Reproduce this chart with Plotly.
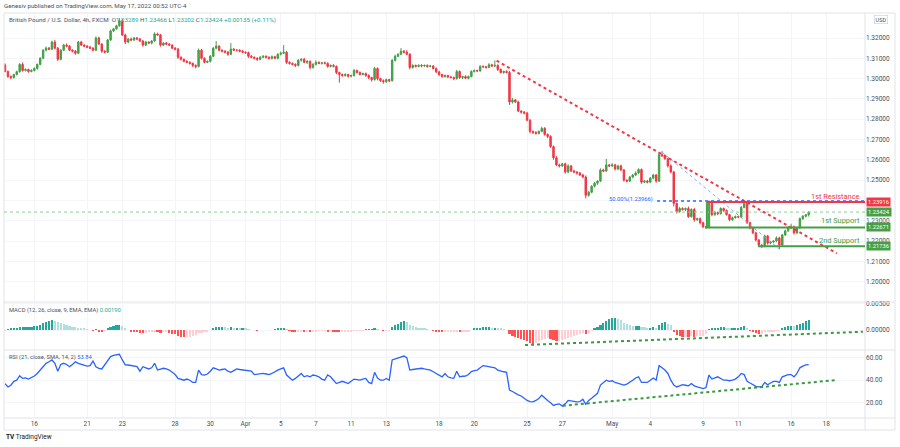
import numpy as np
import pandas as pd
import plotly.graph_objects as go

# ---------------- data ----------------
first_open = 1.3067
closes = [
 1.3035,1.3010,1.3005,1.3020,1.3034,1.3070,1.3040,1.3045,1.3035,1.3040,
 1.3050,1.3070,1.3100,1.3140,1.3150,1.3145,1.3180,1.3150,1.3095,1.3140,
 1.3165,1.3160,1.3140,1.3135,1.3125,1.3180,1.3165,1.3160,1.3155,1.3150,
 1.3140,1.3200,1.3170,1.3135,1.3130,1.3190,1.3235,1.3245,1.3260,1.3285,
 1.3215,1.3180,1.3195,1.3190,1.3200,1.3195,1.3185,1.3165,1.3180,1.3175,
 1.3185,1.3220,1.3215,1.3165,1.3175,1.3170,1.3165,1.3150,1.3145,1.3105,
 1.3095,1.3085,1.3080,1.3075,1.3065,1.3060,1.3140,1.3100,1.3080,1.3085,
 1.3110,1.3150,1.3160,1.3140,1.3135,1.3130,1.3120,1.3145,1.3140,1.3140,
 1.3135,1.3130,1.3128,1.3110,1.3105,1.3100,1.3095,1.3105,1.3110,1.3105,
 1.3100,1.3108,1.3100,1.3120,1.3125,1.3130,1.3080,1.3075,1.3070,1.3065,
 1.3090,1.3095,1.3080,1.3085,1.3055,1.3070,1.3080,1.3075,1.3078,1.3075,
 1.3060,1.3065,1.3060,1.3030,1.3020,1.3015,1.3020,1.3012,1.3015,1.3040,
 1.3030,1.3020,1.3025,1.3015,1.3005,1.2995,1.3050,1.3000,1.2990,1.2985,
 1.2995,1.2990,1.3090,1.3110,1.3120,1.3135,1.3130,1.3120,1.3055,1.3065,
 1.3060,1.3065,1.3062,1.3065,1.3060,1.3062,1.3050,1.3033,1.3020,1.3010,
 1.3015,1.3008,1.3005,1.3000,1.3035,1.3005,1.3010,1.3002,1.3010,1.3035,
 1.3040,1.3038,1.3060,1.3058,1.3055,1.3068,1.3062,1.3065,1.3045,1.3030,
 1.3035,1.3030,1.2885,1.2895,1.2885,1.2840,1.2835,1.2830,1.2795,1.2740,
 1.2735,1.2730,1.2740,1.2755,1.2725,1.2715,1.2665,1.2610,1.2575,1.2570,
 1.2580,1.2540,1.2570,1.2545,1.2540,1.2535,1.2525,1.2515,1.2425,1.2440,
 1.2470,1.2485,1.2495,1.2550,1.2545,1.2575,1.2570,1.2575,1.2555,1.2570,
 1.2550,1.2500,1.2495,1.2515,1.2525,1.2535,1.2552,1.2490,1.2495,1.2490,
 1.2510,1.2525,1.2495,1.2625,1.2620,1.2605,1.2570,1.2540,1.2385,1.2345,
 1.2360,1.2355,1.2360,1.2320,1.2355,1.2305,1.2310,1.2290,1.2270,1.2268,
 1.2385,1.2330,1.2340,1.2335,1.2360,1.2350,1.2330,1.2305,1.2315,1.2320,
 1.2318,1.2365,1.2385,1.2290,1.2265,1.2240,1.2205,1.2180,1.2175,1.2225,
 1.2190,1.2195,1.2200,1.2215,1.2180,1.2230,1.2250,1.2265,1.2270,1.2240,
 1.2265,1.2310,1.2322,1.23289,1.23424]

wick_up_pips = [
 8,5,6,4,5,6,10,5,4,6, 5,4,6,5,8,6,7,10,6,5, 6,8,5,4,6,5,6,4,5,7,
 5,8,6,4,5,5,6,4,5,13, 8,6,5,7,4,5,6,5,6,4, 5,8,6,5,4,6,5,4,5,6,
 5,4,6,5,4,5,8,6,5,4, 6,5,25,5,4,5,6,30,5,4, 5,6,4,5,6,4,5,6,5,4,
 5,6,4,5,8,35,6,5,4,5, 6,5,7,5,4,6,10,5,4,6, 5,4,6,5,4,5,6,4,5,8,
 5,6,4,5,6,4,8,5,4,6, 5,4,6,8,5,15,6,10,5,6, 4,5,6,4,5,6,4,5,6,4,
 5,4,6,5,8,5,4,6,5,6, 5,4,6,5,4,8,5,25,6,5, 4,6,8,10,5,6,4,5,6,5,
 4,6,5,8,6,5,6,5,8,6, 5,6,8,5,6,4,5,6,8,6, 5,6,4,8,6,30,5,8,6,5,
 6,5,4,6,5,8,6,5,4,6, 5,6,5,10,18,6,5,8,6,5, 8,6,5,10,6,8,5,6,5,4,
 15,6,8,5,6,5,6,4,5,6, 5,8,12,6,5,4,6,5,4,6, 5,6,4,8,6,5,6,8,15,6,
 5,6,5,4,4.2]

wick_dn_pips = [
 4,6,8,5,4,5,6,5,6,4, 5,6,4,5,6,5,4,6,8,5, 4,6,5,6,8,5,4,6,5,4,
 6,5,4,8,6,5,4,6,5,4, 5,10,6,5,4,6,5,8,5,4, 6,5,4,8,5,6,4,5,6,8,
 6,5,4,6,8,10,5,6,5,4, 5,4,6,5,6,5,8,5,4,6, 5,4,6,8,5,6,8,5,4,6,
 5,6,4,5,6,4,8,6,5,8, 5,6,4,8,10,6,5,4,6,5, 6,5,4,8,40,6,5,8,6,5,
 6,5,4,6,8,10,5,8,6,10, 6,8,5,6,4,5,6,5,10,6, 5,4,6,5,6,4,5,6,8,6,
 5,6,4,8,5,6,8,5,6,4, 5,6,4,5,6,4,5,6,8,5, 6,5,15,8,6,5,8,6,5,10,
 8,6,5,4,6,8,6,10,6,8, 5,8,6,5,6,8,5,6,15,6, 5,6,8,5,6,5,6,5,8,6,
 5,8,6,5,6,5,6,8,5,6, 5,6,8,5,6,5,8,6,15,10, 6,5,8,6,5,10,6,8,6,8,
 5,8,6,8,5,6,5,8,6,5, 6,5,4,6,8,6,8,6,10,6, 8,6,5,6,20,5,6,5,6,8,
 6,5,6,6,8.7]

macd_hist_e4 = [
 -1,1,2,3,4,5,5,6,6,6, 7,8,10,13,15,17,19,18,15,13, 12,10,8,6,5,4,3,2,1,0,
 -1,1,-2,-3,-1,3,6,8,9,10, 7,4,0,-2,-3,-4,-5,-6,-5,-4, -3,-2,-3,-5,-4,-4,-5,-7,-8,-11,
 -13,-14,-14,-13,-12,-9,-6,-5,-4,-2, 0,3,5,5,6,5,4,5,4,4, 3,3,2,1,0,0,-1,0,0,0,
 0,0,1,2,2,3,1,-1,-2,-3, -2,-2,-3,-2,-3,-2,-2,-1,-1,-1, -2,-1,-2,-3,-4,-4,-3,-3,-3,-1,
 -1,-1,-1,1,1,1,2,1,0,-1, -1,-1,5,9,12,15,17,15,10,8, 6,4,3,2,1,0,-1,-2,-3,-4,
 -4,-4,-4,-4,-2,-3,-3,-3,-2,0, 2,3,4,5,5,5,4,4,3,2, 1,0,-8,-11,-13,-16,-18,-19,-21,-24,
 -26,-24,-22,-19,-18,-16,-17,-20,-22,-21, -19,-18,-15,-13,-11,-9,-7,-5,-8,-5,
 -1,2,5,10,14,18,21,23,23,22, 19,14,11,9,8,8,8,6,5,4, 4,5,4,10,14,15,12,9,-3,-9,
 -12,-14,-13,-14,-12,-13,-12,-12,-11,-8, 1,2,3,4,5,5,4,3,4,4,
 4,6,7,2,-1,-4,-6,-8,-7,-4, -3,-2,-2,-1,-1,3,5,7,8,7, 9,12,14,17,19]

rsi_values = [
 37,34,35.5,39,40,44,41.6,42,41,42, 43.7,46,49,53,55,56.4,58,55,48,54,
 55,54,52,54,56.4,55,54,53,52.6,53, 57,52,50.5,50,54,58,61,62,62.5,63,
 58,53.6,53.5,53,52.5,52,48,52,51,50, 51,55,49,50,50.6,50,49,47,45,41.6,
 40.5,40,41,40,38,38,49,45,44.6,45.5, 48,51,50,49,49.5,50,48,47,48.5,50,
 49.5,49,48.5,48.5,48,45,45.5,46,46,45.5, 45,46,47.6,49,50,51,44.6,42,40,41.6,
 44,46,43,44,43,44.6,44,43,41,40, 44.6,43,40,37,38,39,38,37,39,41,
 40.5,40,41,41.6,38,37,47,42,40,40, 41.6,40,58,59,59.5,61,61.5,60,49,49.5,
 50,50.3,50.6,50,49.5,49,47.5,46,44.5,43, 46,43,42,41.6,48,43,43.5,43.7,45,47.6,
 48.5,49,51,53,52.5,52,51.5,51,49,48, 47.5,47,31.3,30,28.3,27,26,24,22,21,
 20.8,22,23.7,26.7,24,22,20,17.6,18.5,19, 17,19,22,21.5,21,20.8,21,23,18.5,22,
 24,26,28.3,35.7,38,40,39,39.5,38,37, 36,35.7,36.5,38,40,42,43,38,38,38,
 40,42,40,53,51,49,46,40,35.7,34, 35,36,35.5,35,37,35,34,33,32.6,33.5,
 44.6,41,42,43,41.5,40,40,39.5,40,41, 43,46,45,39,37.5,35.7,34.5,34,34,38,
 36,37.5,39,39,38,43,44,45,45,43, 46,51,52.5,53.6,53.84]

tick_times = ["2022-03-16 00:00", "2022-03-21 00:00", "2022-03-23 00:00", "2022-03-28 00:00",
              "2022-03-30 00:00", "2022-04-01 00:00", "2022-04-05 00:00", "2022-04-07 00:00",
              "2022-04-11 00:00", "2022-04-13 00:00", "2022-04-18 00:00", "2022-04-20 00:00",
              "2022-04-25 00:00", "2022-04-27 00:00", "2022-05-01 20:00", "2022-05-04 00:00",
              "2022-05-09 00:00", "2022-05-11 00:00", "2022-05-16 00:00", "2022-05-18 00:00"]
tick_text = ["16", "21", "23", "28", "30", "Apr", "5", "7", "11", "13", "18", "20",
             "25", "27", "May", "4", "9", "11", "16", "18"]

price_ticks = [1.20, 1.21, 1.22, 1.23, 1.24, 1.25, 1.26, 1.27, 1.28, 1.29, 1.30, 1.31, 1.32]
hidden_price_ticks = [1.24]          # covered by the resistance price label in the reference
level_resistance = 1.23916
level_support1 = 1.22671
level_support2 = 1.21736
last_price = 1.23424
fib_50 = 1.23966

n = len(closes)
assert len(wick_up_pips) == n and len(wick_dn_pips) == n, (len(wick_up_pips), len(wick_dn_pips))
assert len(macd_hist_e4) == n and len(rsi_values) == n, (len(macd_hist_e4), len(rsi_values))

# ---------------- time axis (4h bars, 6 per trading day) ----------------
hours = [-4, 0, 4, 8, 12, 16]
all_days = pd.bdate_range("2022-03-14", "2022-05-18")
all_times = [d + pd.Timedelta(hours=h) for d in all_days for h in hours][3:]
bar_times = all_times[:n]
pos = {t: i for i, t in enumerate(all_times)}
tickvals = [pos[pd.Timestamp(t)] for t in tick_times]
xs = list(range(n))

opens = [first_open] + closes[:-1]
highs = [max(o, c) + u / 1e4 for o, c, u in zip(opens, closes, wick_up_pips)]
lows = [min(o, c) - d / 1e4 for o, c, d in zip(opens, closes, wick_dn_pips)]
hist = [v / 1e4 for v in macd_hist_e4]
hist_colors = []
for i, v in enumerate(hist):
    prev = hist[i - 1] if i else v
    if v >= 0:
        hist_colors.append("#26a69a" if v >= prev else "#b2dfdb")
    else:
        hist_colors.append("#ff5252" if v < prev else "#ffcdd2")

UP = "#43a047"
DN = "#f23645"
GREEN = "#43a047"
RED = "#f23645"
FRAME = "#e0e3eb"
TXT = "#4a4f5a"
FONT = "Roboto"

# pixel helpers for the frame (plot area x: 4..865, y: 13..418)
PL, PR, PT, PB = 4, 865, 13, 418
def xp(px):
    return (px - PL) / (PR - PL)
def yp(py):
    return (PB - py) / (PB - PT)

XR = [-0.34, 293.2]

fig = go.Figure()
fig.add_trace(go.Candlestick(
    x=xs, open=opens, high=highs, low=lows, close=closes,
    increasing=dict(line=dict(color=UP, width=1), fillcolor=UP),
    decreasing=dict(line=dict(color=DN, width=1), fillcolor=DN),
    whiskerwidth=0, hovertext=[t.strftime("%Y-%m-%d %H:%M") for t in bar_times],
    xaxis="x", yaxis="y", showlegend=False))
fig.add_trace(go.Bar(x=xs, y=hist, marker=dict(color=hist_colors, line=dict(width=0)),
                     width=0.75, xaxis="x2", yaxis="y2", showlegend=False))
fig.add_trace(go.Scatter(x=xs, y=rsi_values, mode="lines", line=dict(color="#2962ff", width=1.3),
                         xaxis="x3", yaxis="y3", showlegend=False))

grid = "#f4f5f8"
axis_font = dict(family=FONT, size=6.5, color=TXT)
fig.update_layout(
    width=900, height=447, margin=dict(l=PL, r=900 - PR, t=PT, b=447 - PB),
    paper_bgcolor="white", plot_bgcolor="white", showlegend=False, bargap=0,
    font=dict(family=FONT, size=7, color=TXT),
    xaxis=dict(domain=[0, 1], range=XR, anchor="y", showticklabels=False, showgrid=True,
               gridcolor=grid, tickvals=tickvals, zeroline=False, rangeslider=dict(visible=False),
               fixedrange=True),
    xaxis2=dict(domain=[0, 1], range=XR, anchor="y2", matches="x", showticklabels=False,
                showgrid=True, gridcolor=grid, tickvals=tickvals, zeroline=False),
    xaxis3=dict(domain=[0, 1], range=XR, anchor="y3", matches="x", tickvals=tickvals,
                ticktext=tick_text, tickfont=axis_font, showgrid=True, gridcolor=grid,
                zeroline=False, ticks=""),
    yaxis=dict(domain=[yp(302), 1], range=[1.32 - (302 - 38) / 2030, 1.32 + (38 - PT) / 2030],
               side="right", tickvals=price_ticks,
               ticktext=["" if v in hidden_price_ticks else f"{v:.5f}" for v in price_ticks],
               tickfont=axis_font, showgrid=True, gridcolor=grid, zeroline=False, anchor="x"),
    yaxis2=dict(domain=[yp(350), yp(302)], range=[-(350 - 330) * 0.000192, (330 - 302) * 0.000192],
                side="right", tickvals=[0, 0.005], ticktext=["0.00000", "0.00500"],
                tickfont=axis_font, showgrid=True, gridcolor=grid, zeroline=False, anchor="x2"),
    yaxis3=dict(domain=[0, yp(350)], range=[60 - (PB - 357.7) / 1.125, 60 + (357.7 - 350) / 1.125],
                side="right", tickvals=[20, 40, 60], ticktext=["20.00", "40.00", "60.00"],
                tickfont=axis_font, showgrid=True, gridcolor=grid, zeroline=False, anchor="x3"),
)

shapes = []
# frame and pane separators
x_end = xp(895)
for py in (PT, 302, 350, PB, 430):
    shapes.append(dict(type="line", xref="paper", yref="paper", x0=0, x1=x_end, y0=yp(py), y1=yp(py),
                       line=dict(color=FRAME, width=1)))
for px in (PL, PR, 895):
    shapes.append(dict(type="line", xref="paper", yref="paper", x0=xp(px), x1=xp(px), y0=yp(430), y1=1,
                       line=dict(color=FRAME, width=1)))
# last price dotted line
shapes.append(dict(type="line", xref="x", yref="y", x0=XR[0], x1=XR[1], y0=last_price, y1=last_price,
                   line=dict(color="#8fcf94", width=1, dash="dot")))
# red descending trend line
shapes.append(dict(type="line", xref="x", yref="y", x0=167.6, y0=1.3088, x1=283.6, y1=1.2139,
                   line=dict(color=RED, width=2, dash="dot")))
# fib diagonal and 50% level
shapes.append(dict(type="line", xref="x", yref="y", x0=224, y0=1.2638, x1=264, y1=1.2160,
                   line=dict(color="#7fb0e8", width=1, dash="dot")))
shapes.append(dict(type="line", xref="x", yref="y", x0=222.3, y0=fib_50, x1=XR[1], y1=fib_50,
                   line=dict(color="#2962ff", width=1.5, dash="dot")))
# resistance / support box
shapes.append(dict(type="line", xref="x", yref="y", x0=239.3, y0=level_resistance, x1=239.3, y1=level_support1,
                   line=dict(color=GREEN, width=2)))
shapes.append(dict(type="line", xref="x", yref="y", x0=238.7, y0=level_support1, x1=XR[1], y1=level_support1,
                   line=dict(color=GREEN, width=2)))
shapes.append(dict(type="line", xref="x", yref="y", x0=256.7, y0=level_support2, x1=XR[1], y1=level_support2,
                   line=dict(color=GREEN, width=2)))
shapes.append(dict(type="line", xref="x", yref="y", x0=239.3, y0=level_resistance, x1=XR[1], y1=level_resistance,
                   line=dict(color=RED, width=2)))
# indicator trend lines
shapes.append(dict(type="line", xref="x2", yref="y2", x0=177.3, y0=-0.00288, x1=292.5, y1=-0.00033,
                   line=dict(color="#3a9a3f", width=2, dash="dot")))
shapes.append(dict(type="line", xref="x3", yref="y3", x0=190.2, y0=17.3, x1=283.7, y1=40.2,
                   line=dict(color="#3a9a3f", width=2, dash="dot")))
fig.update_layout(shapes=shapes)

ann = []
def text(px, py, s, size=6, color=TXT, anchor="left"):
    ann.append(dict(xref="paper", yref="paper", x=xp(px), y=yp(py), text=s, showarrow=False,
                    xanchor=anchor, yanchor="middle", font=dict(family=FONT, size=size, color=color)))

text(2, 6, "Genesiv published on TradingView.com, May 17, 2022 00:52 UTC-4", size=6.2)
g = "#26a69a"
text(7, 19.5, "British Pound / U.S. Dollar, 4h, FXCM  "
     f"O<span style='color:{g}'>1.23289</span> H<span style='color:{g}'>1.23466</span> "
     f"L<span style='color:{g}'>1.23202</span> C<span style='color:{g}'>1.23424</span> "
     f"<span style='color:{g}'>+0.00135 (+0.11%)</span>", size=6.2)
text(7, 310, "MACD (12, 26, close, 9, EMA, EMA) <span style='color:#26a69a'>0.00190</span>", size=5.8)
text(7, 357.7, "RSI (21, close, SMA, 14, 2) <span style='color:#2962ff'>53.84</span>", size=5.8)
text(4, 437, "<b>TV</b> TradingView", size=6.5, color="#131722")
text(655, 200, "50.00%(1.23966)", size=5.8, color="#2962ff", anchor="right")
text(862, 196, "1st Resistance", size=7.4, color=RED, anchor="right")
text(862, 221, "1st Support", size=7.4, color=GREEN, anchor="right")
text(862, 241, "2nd Support", size=7.4, color=GREEN, anchor="right")

for price, col in ((level_resistance, RED), (last_price, GREEN), (level_support1, GREEN), (level_support2, GREEN)):
    ann.append(dict(xref="paper", yref="y", x=xp(866), y=price, text=f"{price:.5f}", showarrow=False,
                    xanchor="left", yanchor="middle", bgcolor=col, borderpad=1,
                    font=dict(family=FONT, size=5.8, color="white")))
ann.append(dict(xref="paper", yref="paper", x=xp(881), y=yp(20), text="USD", showarrow=False,
                xanchor="center", yanchor="middle", bordercolor="#c9ccd4", borderwidth=0.6, borderpad=1,
                font=dict(family=FONT, size=5.5, color=TXT)))
fig.update_layout(annotations=ann)

fig.write_html("out.html", config={"displayModeBar": False},
               post_script="document.body.style.margin='0px';document.body.style.padding='0px';")
